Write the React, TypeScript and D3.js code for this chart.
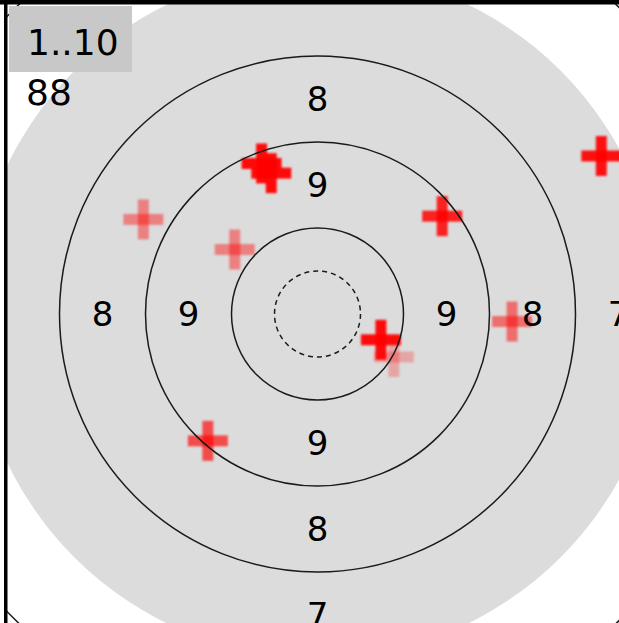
import React from 'react';
import * as d3 from 'd3';

const W = 619;
const H = 623;

// ring boundaries (score values) drawn as solid lines
const ringScores = [10, 9, 8, 6];
// inner ten (dashed)
const innerTenScore = 10.5;
// score whose outer boundary delimits the grey aiming disk
const diskScore = 7;

// ring numbers shown along each axis
const labelsTop = [9, 8];
const labelsLeft = [9, 8];
const labelsRight = [9, 8, 7];
const labelsBottom = [9, 8, 7];

// shots (mm from centre, y up) and their opacity
const shotX = [-7.1, 5.9, -5.2, -4.3, 11.6, 26.4, -16.2, -7.7, 18.1, -10.2];
const shotY = [-4.0, -2.4, 14.0, 13.1, 9.1, 14.7, 8.8, 6.0, -0.7, -11.8];
const shotAlpha = [0.25, 0.95, 0.95, 0.95, 0.85, 0.92, 0.42, 0.42, 0.5, 0.66];
const shotXfix = [7.1, 5.9, -5.2, -4.3, 11.6, 26.4, -16.2, -7.7, 18.1, -10.2];

const rangeText = '1..10';
const totalText = '88';

export default function App() {
  const cx = 317.5;
  const cy = 314;
  const ringWidth = 86;
  const rScore = d3.scaleLinear().domain([11, 10]).range([0, ringWidth]);
  const mmX = d3.scaleLinear().domain([0, 8]).range([cx, cx + ringWidth]);
  const mmY = d3.scaleLinear().domain([0, 8]).range([cy, cy - ringWidth]);

  const fs = 34;
  const font = '"DejaVu Sans", Verdana, sans-serif';
  const labelR = (s: number) => rScore(s + 0.5);

  const labelEls: any[] = [];
  labelsTop.forEach((s) =>
    labelEls.push({ key: 't' + s, x: cx, y: cy - labelR(s), t: String(s) })
  );
  labelsBottom.forEach((s) =>
    labelEls.push({ key: 'b' + s, x: cx, y: cy + labelR(s), t: String(s) })
  );
  labelsLeft.forEach((s) =>
    labelEls.push({ key: 'l' + s, x: cx - labelR(s), y: cy, t: String(s) })
  );
  labelsRight.forEach((s) =>
    labelEls.push({ key: 'r' + s, x: cx + labelR(s), y: cy, t: String(s) })
  );

  const armLen = 40;
  const armW = 11;

  return (
    <svg
      width={W}
      height={H}
      style={{ position: 'fixed', left: 0, top: 0, display: 'block' }}
    >
      <defs>
        <filter id="soft" x="-20%" y="-20%" width="140%" height="140%">
          <feGaussianBlur stdDeviation="0.8" />
        </filter>
        <clipPath id="frame">
          <rect x={7} y={4} width={W} height={H} />
        </clipPath>
      </defs>
      <rect x={0} y={0} width={W} height={H} fill="#ffffff" />
      <g clipPath="url(#frame)">
        <circle cx={cx} cy={cy} r={rScore(diskScore)} fill="#dcdcdc" />
        <g filter="url(#soft)">
          {shotXfix.map((x, i) => {
            const px = mmX(x);
            const py = mmY(shotY[i]);
            return (
              <g key={i} opacity={1}>
                <rect
                  x={px - armLen / 2}
                  y={py - armW / 2}
                  width={armLen}
                  height={armW}
                  fill="#ff0000"
                  fillOpacity={shotAlpha[i]}
                />
                <rect
                  x={px - armW / 2}
                  y={py - armLen / 2}
                  width={armW}
                  height={armLen}
                  fill="#ff0000"
                  fillOpacity={shotAlpha[i]}
                />
              </g>
            );
          })}
        </g>
        {ringScores.map((s) => (
          <circle
            key={s}
            cx={cx}
            cy={cy}
            r={rScore(s)}
            fill="none"
            stroke="#1a1a1a"
            strokeWidth={1.5}
          />
        ))}
        <circle
          cx={cx}
          cy={cy}
          r={rScore(innerTenScore)}
          fill="none"
          stroke="#1a1a1a"
          strokeWidth={1.5}
          strokeDasharray="5,4"
        />
        {labelEls.map((l) => (
          <text
            key={l.key}
            x={l.x}
            y={l.y + fs * 0.36}
            textAnchor="middle"
            fontFamily={font}
            fontSize={fs}
            fill="#000"
          >
            {l.t}
          </text>
        ))}
        <rect x={9} y={6} width={123} height={66} fill="#c8c8c8" />
        <text x={27} y={55} fontFamily={font} fontSize={36} fill="#000">
          {rangeText}
        </text>
        <text x={26} y={105} fontFamily={font} fontSize={36} fill="#000">
          {totalText}
        </text>
      </g>
      <rect x={0} y={0} width={W} height={4.5} fill="#000" />
      <rect x={4} y={0} width={3.5} height={H} fill="#000" />
    </svg>
  );
}
